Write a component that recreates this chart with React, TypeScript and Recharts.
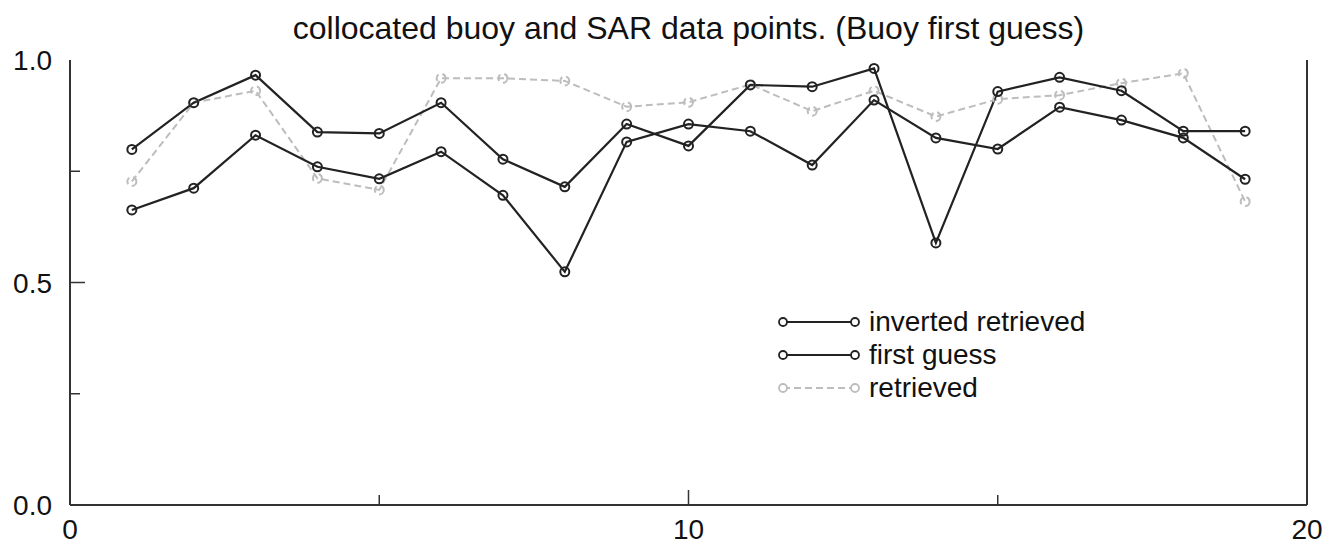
import React from "react";
import { LineChart, Line, XAxis, YAxis, Legend } from "recharts";

// values
const samples = [1, 2, 3, 4, 5, 6, 7, 8, 9, 10, 11, 12, 13, 14, 15, 16, 17, 18, 19];
const invertedRetrieved = [0.799, 0.904, 0.966, 0.838, 0.835, 0.904, 0.777, 0.715, 0.856, 0.807, 0.944, 0.94, 0.981, 0.589, 0.929, 0.961, 0.931, 0.84, 0.84];
const firstGuess = [0.663, 0.712, 0.831, 0.76, 0.733, 0.794, 0.696, 0.524, 0.816, 0.856, 0.84, 0.764, 0.91, 0.825, 0.8, 0.894, 0.865, 0.825, 0.732];
const retrieved = [0.727, 0.904, 0.931, 0.734, 0.708, 0.959, 0.959, 0.953, 0.895, 0.905, 0.945, 0.885, 0.931, 0.873, 0.912, 0.921, 0.948, 0.97, 0.682];

const xTicks = [0, 5, 10, 15, 20];
const yTicks = [0, 0.25, 0.5, 0.75, 1];
const legendOrder = ["inverted retrieved", "first guess", "retrieved"];
const title = "collocated buoy and SAR data points. (Buoy first guess)";

const FONT = '"Liberation Sans", Arial, Helvetica, sans-serif';
const FRAME = "#333";
const DARK = "#222";
const GREY = "#bdbdbd";

const rows = samples.map((x, i) => ({
  x,
  inverted: invertedRetrieved[i],
  first: firstGuess[i],
  retrieved: retrieved[i],
}));

function BottomTick(props: any) {
  const { x, y, payload } = props;
  const v = payload.value;
  const major = v % 10 === 0;
  return (
    <g>
      {v > 0 && v < 20 && (
        <line x1={x} y1={y} x2={x} y2={y - (major ? 15 : 10)} stroke={FRAME} strokeWidth={1.5} />
      )}
      {major && (
        <text x={x} y={y + 34} textAnchor="middle" fontSize={28} fontFamily={FONT} fill="#111">
          {v}
        </text>
      )}
    </g>
  );
}

function TopTick(props: any) {
  const { x, y, payload } = props;
  const v = payload.value;
  if (v <= 0 || v >= 20) return <g />;
  return <line x1={x} y1={y} x2={x} y2={y + (v % 10 === 0 ? 15 : 10)} stroke={FRAME} strokeWidth={1.5} />;
}

function LeftTick(props: any) {
  const { x, y, payload } = props;
  const v = payload.value;
  const major = v === 0 || v === 0.5 || v === 1;
  return (
    <g>
      {v > 0 && v < 1 && (
        <line x1={x} y1={y} x2={x + (major ? 15 : 10)} y2={y} stroke={FRAME} strokeWidth={1.5} />
      )}
      {major && (
        <text x={x - 18} y={y + 10} textAnchor="end" fontSize={28} fontFamily={FONT} fill="#111">
          {v.toFixed(1)}
        </text>
      )}
    </g>
  );
}

function RightTick(props: any) {
  const { x, y, payload } = props;
  const v = payload.value;
  if (v <= 0 || v >= 1) return <g />;
  return <line x1={x} y1={y} x2={x - (v === 0.5 ? 15 : 10)} y2={y} stroke={FRAME} strokeWidth={1.5} />;
}

function renderLegend(props: any) {
  const items = [...(props.payload || [])].sort(
    (a: any, b: any) => legendOrder.indexOf(a.value) - legendOrder.indexOf(b.value)
  );
  return (
    <div style={{ fontFamily: FONT, fontSize: 28, color: "#111" }}>
      {items.map((it: any) => (
        <div key={it.value} style={{ display: "flex", alignItems: "center", height: 33 }}>
          <svg width={92} height={20}>
            <line
              x1={6}
              y1={10}
              x2={78}
              y2={10}
              stroke={it.color}
              strokeWidth={2}
              strokeDasharray={it.payload?.strokeDasharray}
            />
            <circle cx={6} cy={10} r={4} fill="#fff" stroke={it.color} strokeWidth={1.8} />
            <circle cx={78} cy={10} r={4} fill="#fff" stroke={it.color} strokeWidth={1.8} />
          </svg>
          <span>{it.value}</span>
        </div>
      ))}
    </div>
  );
}

export default function App() {
  const dot = (c: string) => ({ r: 4.5, fill: "none", stroke: c, strokeWidth: 2 });
  return (
    <div style={{ position: "absolute", left: 0, top: 0, width: 1332, height: 546, background: "#fff" }}>
      <div
        style={{
          position: "absolute",
          left: 70,
          width: 1237,
          top: 8,
          textAlign: "center",
          fontFamily: FONT,
          fontSize: 32,
          lineHeight: "40px",
          color: "#111",
        }}
      >
        {title}
      </div>
      <LineChart width={1332} height={546} data={rows} margin={{ top: 60, right: 0, bottom: 0, left: 0 }}>
        <XAxis
          dataKey="x"
          type="number"
          domain={[0, 20]}
          ticks={xTicks}
          height={41}
          tickSize={0}
          tickMargin={0}
          tickLine={false}
          tick={<BottomTick />}
          axisLine={{ stroke: FRAME, strokeWidth: 2 }}
        />
        <XAxis
          xAxisId="top"
          orientation="top"
          type="number"
          domain={[0, 20]}
          ticks={xTicks}
          height={0}
          tickSize={0}
          tickMargin={0}
          tickLine={false}
          tick={<TopTick />}
          axisLine={{ stroke: FRAME, strokeWidth: 2 }}
        />
        <YAxis
          type="number"
          domain={[0, 1]}
          ticks={yTicks}
          width={70}
          tickSize={0}
          tickMargin={0}
          tickLine={false}
          tick={<LeftTick />}
          axisLine={{ stroke: FRAME, strokeWidth: 2 }}
        />
        <YAxis
          yAxisId="right"
          orientation="right"
          type="number"
          domain={[0, 1]}
          ticks={yTicks}
          width={25}
          tickSize={0}
          tickMargin={0}
          tickLine={false}
          tick={<RightTick />}
          axisLine={{ stroke: FRAME, strokeWidth: 2 }}
        />
        <Legend
          content={renderLegend}
          layout="vertical"
          align="center"
          verticalAlign="middle"
          wrapperStyle={{ position: "absolute", left: 777, top: 305, width: 360 }}
        />
        <Line
          dataKey="retrieved"
          name="retrieved"
          stroke={GREY}
          strokeWidth={2}
          strokeDasharray="7 4"
          dot={dot(GREY)}
          isAnimationActive={false}
        />
        <Line
          dataKey="first"
          name="first guess"
          stroke={DARK}
          strokeWidth={2.2}
          dot={dot(DARK)}
          isAnimationActive={false}
        />
        <Line
          dataKey="inverted"
          name="inverted retrieved"
          stroke={DARK}
          strokeWidth={2.2}
          dot={dot(DARK)}
          isAnimationActive={false}
        />
      </LineChart>
    </div>
  );
}
